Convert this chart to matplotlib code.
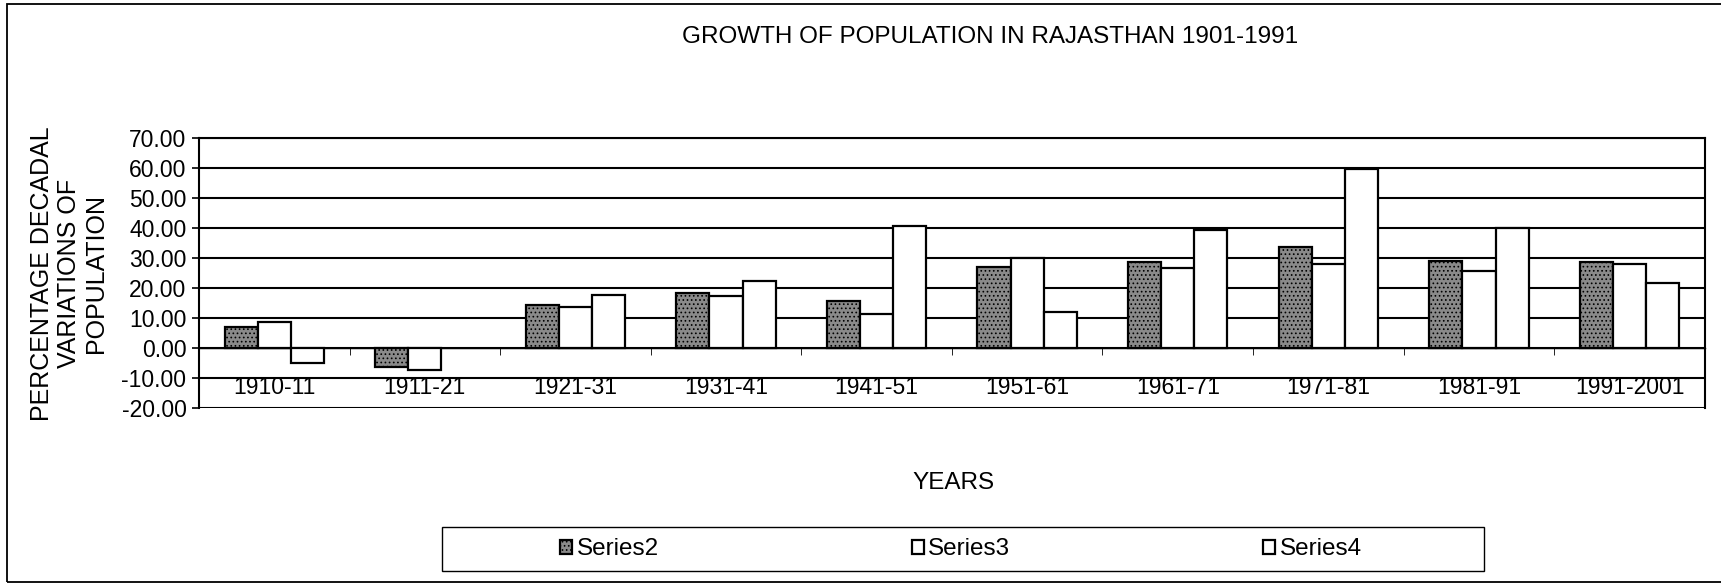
import numpy as np
import matplotlib.pyplot as plt
from matplotlib.patches import Rectangle

plt.rcParams['font.family'] = ['Liberation Sans', 'DejaVu Sans']
plt.rcParams['hatch.linewidth'] = 0.7

periods = ['1910-11', '1911-21', '1921-31', '1931-41', '1941-51',
           '1951-61', '1961-71', '1971-81', '1981-91', '1991-2001']
series2 = [6.9, -6.3, 14.3, 18.2, 15.7, 26.9, 28.6, 33.6, 28.9, 28.7]
series3 = [8.8, -7.4, 13.7, 17.4, 11.5, 30.0, 26.7, 28.1, 25.8, 28.0]
series4 = [-4.9, np.nan, 17.6, 22.5, 40.7, 11.9, 39.3, 59.5, 39.9, 21.8]
yticks = np.arange(-20, 71, 10)

fig = plt.figure(figsize=(17.21, 5.84), dpi=100)
ax = fig.add_axes([0.1156, 0.3010, 0.8750, 0.4630])

x = np.arange(len(periods))
w = 0.22
b2 = ax.bar(x - w, series2, w, facecolor='#8a8a8a', edgecolor='black',
            linewidth=1.6, hatch='....', zorder=3)
b3 = ax.bar(x, series3, w, facecolor='white', edgecolor='black',
            linewidth=1.6, zorder=3)
b4 = ax.bar(x + w, series4, w, facecolor='white', edgecolor='black',
            linewidth=1.6, zorder=3)

ax.set_xlim(-0.5, len(periods) - 0.5)
ax.set_ylim(-20, 70)
ax.set_yticks(yticks)
ax.set_yticklabels(['%.2f' % v for v in yticks], fontsize=16.5)
ax.yaxis.grid(True, color='black', linewidth=1.5)
ax.set_axisbelow(True)

ax.spines['bottom'].set_position(('data', 0))
for s in ['left', 'right', 'top']:
    ax.spines[s].set_linewidth(1.5)
ax.spines['bottom'].set_linewidth(1.0)
ax.set_xticks(x)
ax.set_xticklabels(periods, fontsize=16.5)
ax.set_xticks(np.arange(-0.5, len(periods)), minor=True)
ax.tick_params(axis='x', which='major', length=0, pad=20)
ax.tick_params(axis='x', which='minor', length=5, direction='out')
ax.tick_params(axis='y', length=5, width=1.2, pad=4)

fig.text(0.575, 0.936, 'GROWTH OF POPULATION IN RAJASTHAN 1901-1991',
         ha='center', va='center', fontsize=17.5)
fig.text(0.554, 0.173, 'YEARS', ha='center', va='center', fontsize=17.5)
fig.text(0.040, 0.531, 'PERCENTAGE DECADAL\nVARIATIONS OF\nPOPULATION',
         ha='center', va='center', rotation=90, fontsize=18,
         linespacing=1.15, multialignment='center')

# outer chart border
fig.add_artist(Rectangle((0.0041, 0.0034), 1.0, 0.9898, transform=fig.transFigure,
                         facecolor='none', edgecolor='black', lw=1.3))

# legend box
fig.add_artist(Rectangle((0.257, 0.022), 0.605, 0.075, transform=fig.transFigure,
                         facecolor='none', edgecolor='black', lw=1.0))
leg = fig.legend([b2, b3, b4], ['Series2', 'Series3', 'Series4'],
                 loc='center', bbox_to_anchor=(0.5584, 0.0595), ncol=3,
                 frameon=False, fontsize=17.5, handlelength=0.5,
                 handleheight=0.5, handletextpad=0.18, columnspacing=10.4)

fig.savefig('out.png', dpi=100)
